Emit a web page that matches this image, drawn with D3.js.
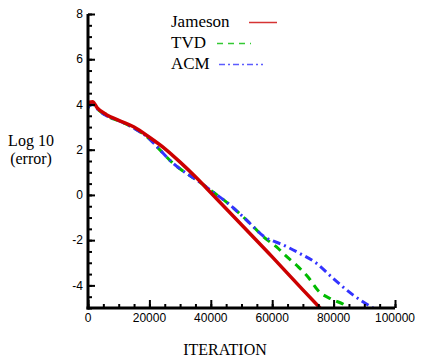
<!DOCTYPE html>
<html>
<head>
<meta charset="utf-8">
<script src="https://cdn.jsdelivr.net/npm/d3@7"></script>
<style>
  body { margin: 0; background: #fff; }
  svg { display: block; }
  .tick-label { font-family: "Liberation Sans Narrow", "Liberation Sans", Arial, sans-serif; font-size: 12px; }
  .serif { font-family: "Liberation Serif", "Times New Roman", serif; }
</style>
</head>
<body>
<div id="app"></div>
<script>
// data
var xTicks = [0, 20000, 40000, 60000, 80000, 100000]
var yTicks = [-4, -2, 0, 2, 4, 6, 8]

var jamesonIter = [0, 500, 1500, 3000, 6000, 10000, 15000, 20000, 25000, 30000, 35000, 40000, 50000, 60000, 70000, 75600]
var jamesonLog = [4.0, 4.1, 4.12, 3.85, 3.55, 3.3, 3.0, 2.55, 2.05, 1.45, 0.8, 0.1, -1.32, -2.74, -4.2, -5.0]

var tvdIter = [0, 500, 1500, 3000, 6000, 10000, 15000, 20000, 23500, 27800, 32100, 36000, 40000, 45200, 50000, 53900, 57100, 61400, 64200, 68500, 71800, 75000, 79300, 83700, 84800]
var tvdLog = [3.85, 3.95, 4.0, 3.8, 3.5, 3.28, 2.95, 2.48, 1.98, 1.39, 0.95, 0.6, 0.2, -0.33, -0.9, -1.41, -1.85, -2.3, -2.66, -3.18, -3.65, -4.24, -4.61, -4.88, -5.0]

var acmIter = [0, 500, 1500, 3000, 6000, 10000, 15000, 20000, 23500, 27800, 32100, 36000, 40000, 45200, 50000, 53900, 57100, 60000, 62500, 69000, 74500, 79900, 86400, 92900]
var acmLog = [3.85, 3.95, 4.0, 3.8, 3.5, 3.28, 2.95, 2.48, 1.98, 1.39, 0.95, 0.6, 0.2, -0.33, -0.9, -1.41, -1.82, -2.02, -2.15, -2.59, -3.03, -3.70, -4.43, -5.0]

var width = 422, height = 362

var x = d3.scaleLinear().domain([0, 100000]).range([88, 395])
var y = d3.scaleLinear().domain([-5, 8]).range([308, 14])

var svg = d3.select('#app')
  .append('svg')
  .attr('width', width)
  .attr('height', height)

// clip to the plot box
svg.append('clipPath')
  .attr('id', 'plot')
  .append('rect')
  .attr('x', x(0))
  .attr('y', y(8))
  .attr('width', x(100000) - x(0))
  .attr('height', y(-5) - y(8))

var line = d3.line()
  .x(function (d) { return x(d[0]) })
  .y(function (d) { return y(d[1]) })
  .curve(d3.curveMonotoneX)

var series = [
  { name: 'Jameson', pts: d3.zip(jamesonIter, jamesonLog), color: '#cc0000', width: 3.5, dash: null },
  { name: 'TVD', pts: d3.zip(tvdIter, tvdLog), color: '#00bb00', width: 3, dash: '8,6' },
  { name: 'ACM', pts: d3.zip(acmIter, acmLog), color: '#3333ff', width: 3, dash: '8,4,2,4' }
]

var g = svg.append('g').attr('clip-path', 'url(#plot)')

// tvd, then acm over it, jameson on top
var drawOrder = [series[1], series[2], series[0]]
drawOrder.forEach(function (s) {
  g.append('path')
    .attr('d', line(s.pts))
    .attr('fill', 'none')
    .attr('stroke', s.color)
    .attr('stroke-width', s.width)
    .attr('stroke-dasharray', s.dash)
})

// axes, ticks pointing inward
svg.append('g').attr('transform', 'translate(' + x(0) + ',0)')
  .call(d3.axisRight(y).tickValues(d3.range(-5, 8.01, 0.5)).tickSize(4).tickFormat(''))
svg.append('g').attr('transform', 'translate(' + x(0) + ',0)')
  .call(d3.axisRight(y).tickValues(yTicks).tickSize(7).tickFormat(''))

svg.append('g').attr('transform', 'translate(0,' + y(-5) + ')')
  .call(d3.axisTop(x).tickValues(d3.range(0, 100001, 5000)).tickSize(4).tickFormat(''))
svg.append('g').attr('transform', 'translate(0,' + y(-5) + ')')
  .call(d3.axisTop(x).tickValues(xTicks).tickSize(8).tickFormat(''))

svg.selectAll('.domain').remove()
svg.selectAll('.tick line').attr('stroke', '#000').attr('stroke-width', 2)

// axis lines
svg.append('line')
  .attr('x1', x(0)).attr('x2', x(0))
  .attr('y1', y(8)).attr('y2', y(-5) + 1.5)
  .attr('stroke', '#000').attr('stroke-width', 3)
svg.append('line')
  .attr('x1', x(0) - 1.5).attr('x2', x(100000))
  .attr('y1', y(-5)).attr('y2', y(-5))
  .attr('stroke', '#000').attr('stroke-width', 3)

// tick labels
svg.selectAll('.ylab')
  .data(yTicks)
  .enter()
  .append('text')
  .attr('class', 'tick-label')
  .attr('x', x(0) - 5)
  .attr('y', function (d) { return y(d) })
  .attr('dy', '.35em')
  .attr('text-anchor', 'end')
  .text(function (d) { return d })

svg.selectAll('.xlab')
  .data(xTicks)
  .enter()
  .append('text')
  .attr('class', 'tick-label')
  .attr('x', function (d) { return x(d) })
  .attr('y', y(-5) + 14)
  .attr('text-anchor', 'middle')
  .text(function (d) { return d })

// axis titles
svg.append('text')
  .attr('class', 'serif')
  .attr('x', 225).attr('y', 355)
  .attr('text-anchor', 'middle')
  .style('font-size', '16px')
  .text('ITERATION')

svg.append('text')
  .attr('class', 'serif')
  .attr('x', 31).attr('y', 146)
  .attr('text-anchor', 'middle')
  .style('font-size', '16px')
  .text('Log 10')
svg.append('text')
  .attr('class', 'serif')
  .attr('x', 31).attr('y', 164)
  .attr('text-anchor', 'middle')
  .style('font-size', '16px')
  .text('(error)')

// legend
var legendY = [27, 48, 69]
var legendLine = [[249, 277], [217, 251], [219, 263]]
series.forEach(function (s, i) {
  svg.append('text')
    .attr('class', 'serif')
    .attr('x', 171).attr('y', legendY[i])
    .style('font-size', '17px')
    .text(s.name)
  svg.append('line')
    .attr('x1', legendLine[i][0]).attr('x2', legendLine[i][1])
    .attr('y1', legendY[i] - 4.5).attr('y2', legendY[i] - 4.5)
    .attr('stroke', s.color)
    .attr('stroke-width', 1.5)
    .attr('stroke-opacity', 0.8)
    .attr('stroke-dasharray', i == 0 ? null : (i == 1 ? '6,5' : '6,3,2,3'))
})
</script>
</body>
</html>
